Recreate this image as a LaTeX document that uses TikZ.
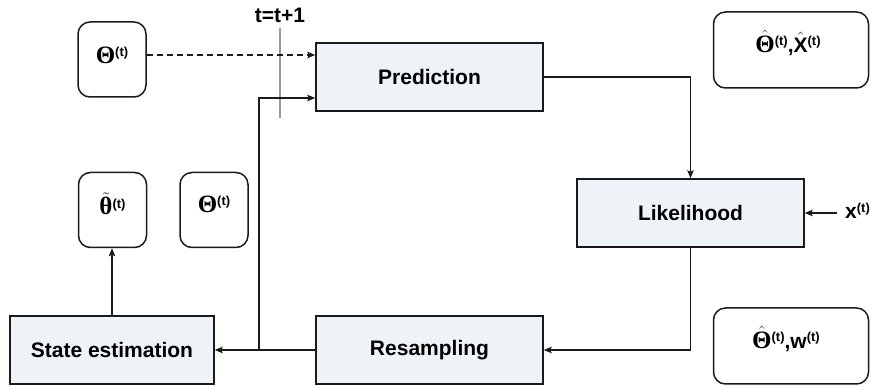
\documentclass[tikz,border=0pt]{standalone}
\usepackage[no-math]{fontspec}
\setmainfont{Liberation Sans}
\newfontfamily\grk{Liberation Serif}
\usetikzlibrary{arrows.meta}
\definecolor{boxfill}{HTML}{EEF3F8}
\definecolor{edge}{HTML}{1A1A1A}
\newcommand\tsup{\raisebox{6.5pt}{\fontsize{13}{13}\selectfont\bfseries(t)}}
\newcommand\bTheta{{\fontsize{25}{25}\selectfont\grk\bfseries Θ}}
\newcommand\htheta{$\hat{\mbox{\bTheta}}$}
\begin{document}
\begin{tikzpicture}[x=1pt,y=1pt,
  font=\fontsize{21}{25}\selectfont\bfseries,
  blockbox/.style={draw=edge,line width=1.5pt,fill=boxfill,inner sep=0pt,
    minimum width=227pt,minimum height=68pt},
  varbox/.style={draw=edge,line width=1.5pt,rounded corners=12pt,inner sep=0pt,
    minimum width=68pt,minimum height=75pt},
  widebox/.style={varbox,minimum width=155pt,minimum height=76pt},
  lbl/.style={inner sep=0pt},
  conn/.style={line width=1.4pt,draw=edge,-{Stealth[length=8pt,width=6.5pt,inset=1.5pt]}},
]
\useasboundingbox (0,0) rectangle (871,-387);

% main blocks
\node[blockbox] (pred) at (429.5,-77) {Prediction};
\node[blockbox] (lik) at (690.5,-213) {Likelihood};
\node[blockbox] (res) at (429.5,-350) {Resampling};
\node[blockbox,minimum width=204pt] (est) at (112,-350) {State estimation};

% rounded variable boxes
\node[varbox] (thA) at (112,-59.5) {};
\node[lbl] (thAt) at (112,-55) {\bTheta\tsup};
\node[varbox] (tiB) at (112.5,-210) {};
\node[lbl] (tiBt) at (112.5,-204) {$\tilde{\mbox{\fontsize{25}{25}\selectfont\grk\bfseries θ}}$\tsup};
\node[varbox] (thC) at (214,-210) {};
\node[lbl] (thCt) at (214,-204) {\bTheta\tsup};
\node[widebox] (topR) at (791,-50) {};
\node[lbl] (topRt) at (788,-43) {\htheta\tsup,$\hat{\mbox{\bfseries X}}$\tsup};
\node[widebox] (botR) at (791,-346) {};
\node[lbl] (botRt) at (786,-339) {\htheta\tsup,w\tsup};

% observation input
\node[lbl,anchor=west] (xt) at (845,-211) {x\tsup};

% time step marker
\node[lbl] (tt) at (280,-15) {t=t+1};
\coordinate (gtop) at (280,-28);
\coordinate (gbot) at (280,-118);
\draw[line width=1.2pt,draw=gray!80] (gtop) -- (gbot);

% helper coordinates
\coordinate (dy) at (0,-55);
\coordinate (py) at (0,-98);
\coordinate (j) at (259,-350);

% connectors
\draw[conn,dashed,dash pattern=on 6pt off 4pt] (thA.east |- dy) -- (pred.west |- dy);
\draw[conn] (pred.east) -| (lik.north);
\draw[conn,shorten <=8pt] (xt.west |- lik.east) -- (lik.east);
\draw[conn] (lik.south) |- (res.east);
\draw[conn] (res.west) -- (est.east);
\draw[conn] (j) |- (pred.west |- py);
\draw[conn] (est.north) -- (est.north |- tiB.south);
\end{tikzpicture}
\end{document}
